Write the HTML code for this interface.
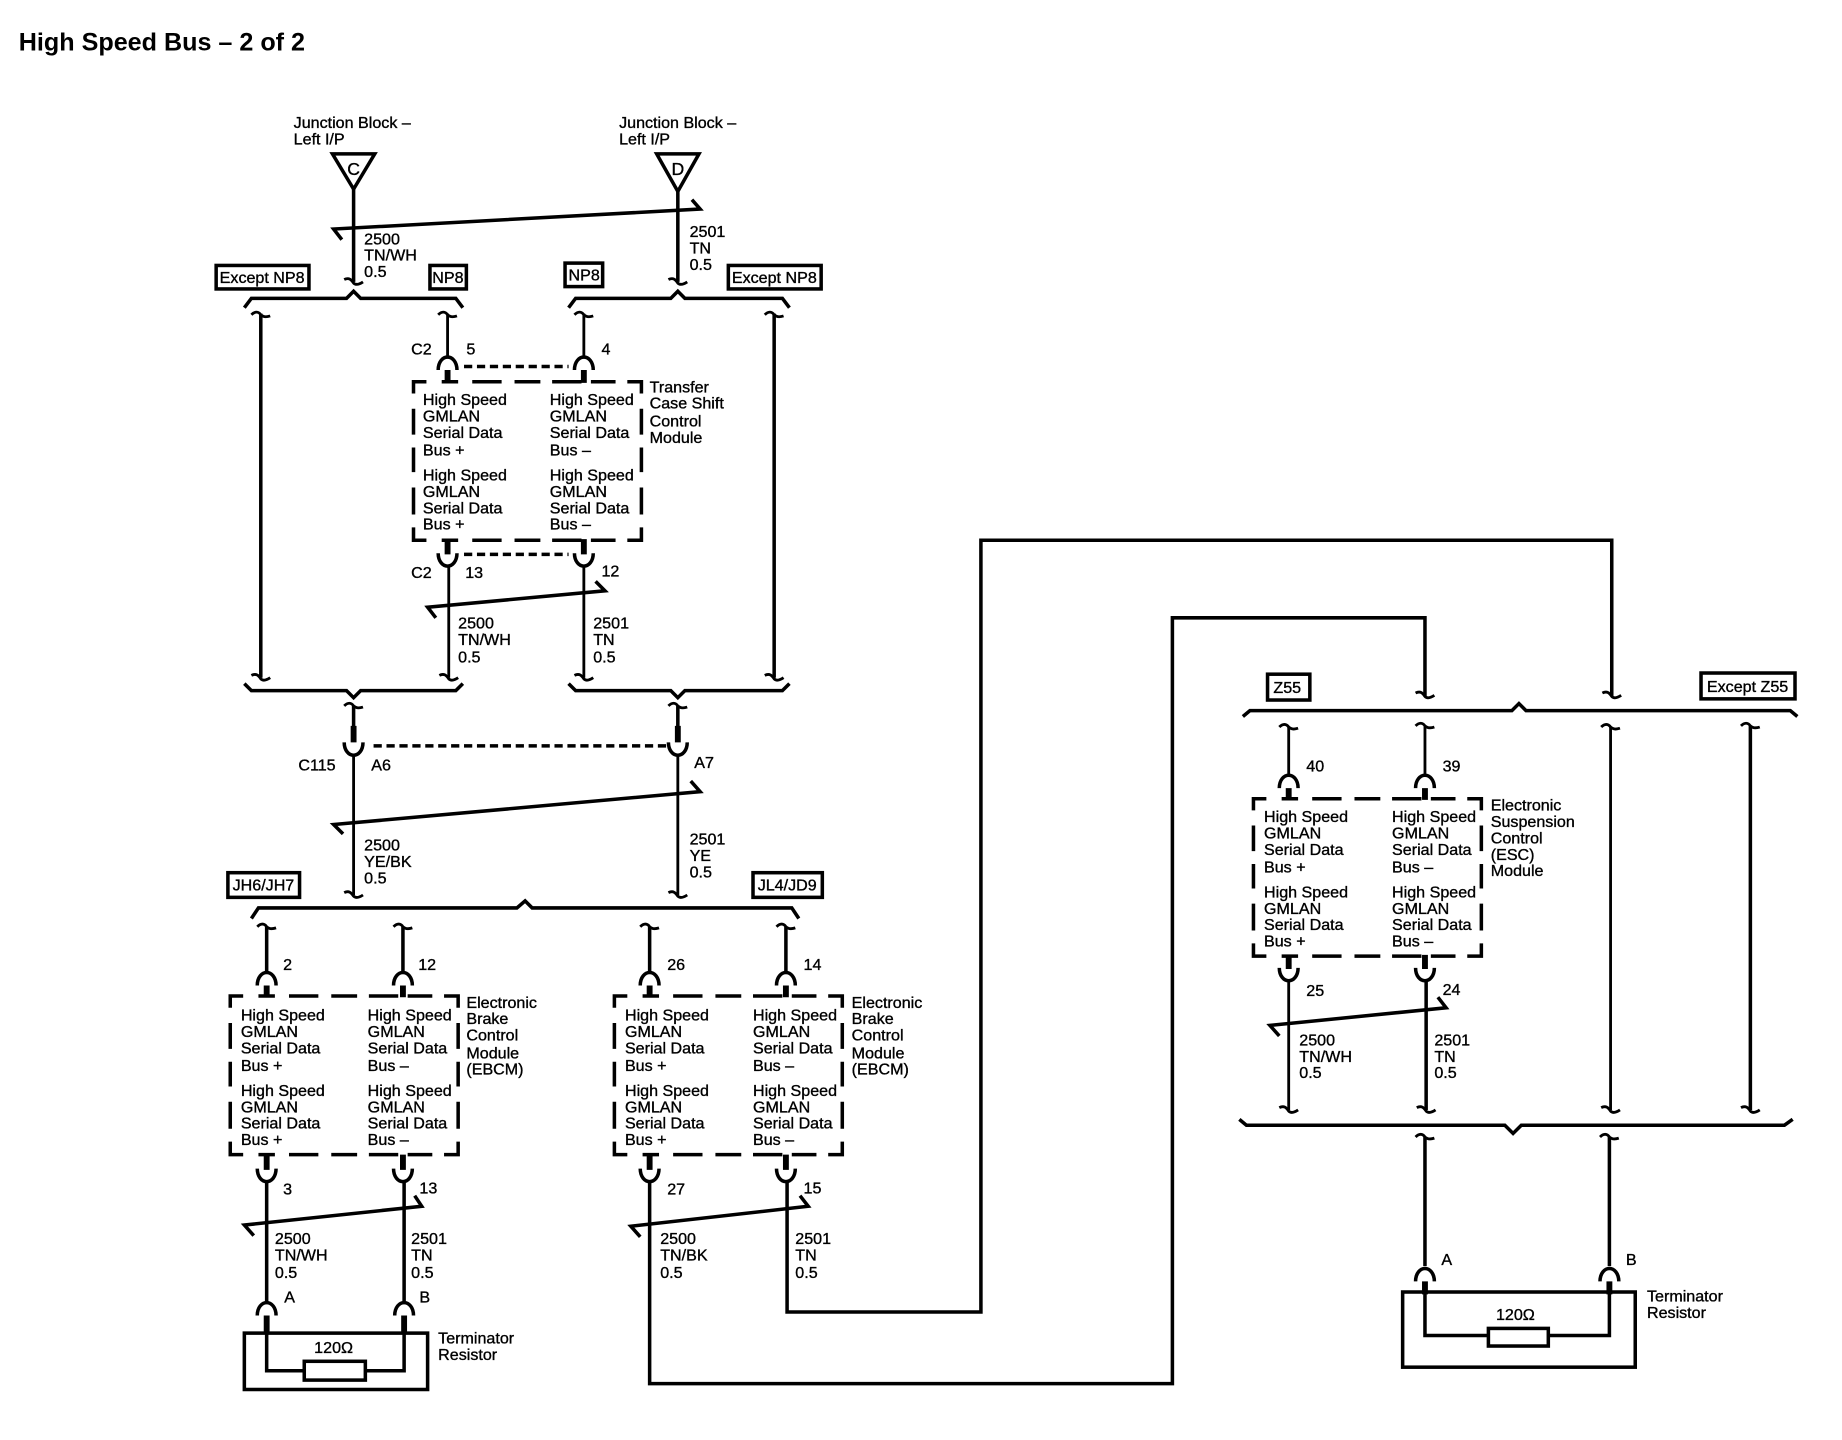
<!DOCTYPE html>
<html><head><meta charset="utf-8"><title>High Speed Bus - 2 of 2</title>
<style>
html,body{margin:0;padding:0;background:#fff;width:1842px;height:1440px;overflow:hidden}
svg{display:block}
text{font-family:"Liberation Sans",sans-serif;font-size:13.7px;fill:#000;stroke:#000;stroke-width:.3}
.t{font-size:21.4px;font-weight:bold;stroke:none}
.w{fill:none;stroke:#000;stroke-width:3}
.n{fill:none;stroke:#000;stroke-width:2.4}
.k{fill:none;stroke:#000;stroke-width:5}
.b{fill:#fff;stroke:#000;stroke-width:3}
.d{fill:none;stroke:#000;stroke-width:3;stroke-dasharray:7 4}
.c{text-anchor:middle;font-size:15px}
</style></head><body>
<svg xmlns="http://www.w3.org/2000/svg" width="1842" height="1440" viewBox="0 0 1568 1226" preserveAspectRatio="none">
<defs>
<path id="sd" class="n" d="M-8,-2 C-4,-4 -2,-2 0,1 C2,3 5,2 8,0"/>
<path id="su" class="n" d="M-8,0 C-5,-3 -2,-3 0,0 C2,2 5,2 8,1"/>
<path id="hu" class="w" d="M-8,6 C-8,-1 -4,-5 0,-5 C4,-5 8,-1 8,6"/>
<path id="cu" class="w" d="M-8,-6 C-8,1 -4,5 0,5 C4,5 8,1 8,-6"/>
<path id="box" class="w" d="M0,10V0H11M24,0H38M50,0H75M86,0H108M118,0H143M151,0H172M182,0H194V10M194,23V45M194,56V77M194,90V113M194,124V135H182M172,135H151M143,135H118M108,135H86M75,135H50M38,135H24M11,135H0V124M0,113V90M0,77V56M0,45V23"/>
</defs>

<text class="t" x="16" y="43">High Speed Bus – 2 of 2</text>

<!-- Junction blocks -->
<text><tspan x="250" y="109">Junction Block –</tspan><tspan x="250" y="123">Left I/P</tspan></text>
<text><tspan x="527" y="109">Junction Block –</tspan><tspan x="527" y="123">Left I/P</tspan></text>
<path class="w" d="M283,131H319L301,161Z"/><path class="w" d="M559,131H595L577,163Z"/>
<text class="c" x="301" y="149">C</text><text class="c" x="577" y="149">D</text>
<path class="w" d="M301,160V240M577,163V240"/>
<path class="w" d="M291,204L284,195L596,178L589,170"/>
<use href="#sd" x="301" y="240"/><use href="#sd" x="577" y="240"/>
<text><tspan x="310" y="208">2500</tspan><tspan x="310" y="222">TN/WH</tspan><tspan x="310" y="236">0.5</tspan></text>
<text><tspan x="587" y="202">2501</tspan><tspan x="587" y="216">TN</tspan><tspan x="587" y="230">0.5</tspan></text>
<rect class="b" x="184" y="226" width="79" height="20"/><text x="187" y="241">Except NP8</text>
<rect class="b" x="366" y="226" width="31" height="20"/><text x="368" y="241">NP8</text>
<rect class="b" x="481" y="224" width="32" height="20"/><text x="484" y="239">NP8</text>
<rect class="b" x="620" y="226" width="79" height="20"/><text x="623" y="241">Except NP8</text>
<path class="w" d="M208,262L214,254H295L301,248L307,254H388L394,262"/>
<path class="w" d="M484,262L490,254H571L577,248L583,254H666L672,262"/>

<!-- Section 1 wires -->
<path class="w" d="M222,267V577M659,267V577"/>
<path class="n" d="M381,267V303M497,267V303"/>
<use href="#su" x="222" y="268"/><use href="#su" x="381" y="268"/><use href="#su" x="497" y="268"/><use href="#su" x="659" y="268"/>
<use href="#hu" x="381" y="309"/><use href="#hu" x="497" y="309"/>
<path class="k" d="M381,315V326M497,315V326"/>
<path class="d" d="M395,312H484"/>
<text x="350" y="302">C2</text><text x="397" y="302">5</text><text x="512" y="302">4</text>

<!-- Transfer case module -->
<g transform="translate(352,325)">
<use href="#box"/>
<text><tspan x="8" y="20">High Speed</tspan><tspan x="8" y="34">GMLAN</tspan><tspan x="8" y="48">Serial Data</tspan><tspan x="8" y="63">Bus +</tspan><tspan x="8" y="84">High Speed</tspan><tspan x="8" y="98">GMLAN</tspan><tspan x="8" y="112">Serial Data</tspan><tspan x="8" y="126">Bus +</tspan></text>
<text><tspan x="116" y="20">High Speed</tspan><tspan x="116" y="34">GMLAN</tspan><tspan x="116" y="48">Serial Data</tspan><tspan x="116" y="63">Bus –</tspan><tspan x="116" y="84">High Speed</tspan><tspan x="116" y="98">GMLAN</tspan><tspan x="116" y="112">Serial Data</tspan><tspan x="116" y="126">Bus –</tspan></text>
</g>
<text><tspan x="553" y="334">Transfer</tspan><tspan x="553" y="348">Case Shift</tspan><tspan x="553" y="363">Control</tspan><tspan x="553" y="377">Module</tspan></text>

<path class="k" d="M381,459V472M497,459V472"/>
<use href="#cu" x="381" y="477"/><use href="#cu" x="497" y="477"/>
<path class="d" d="M395,472H484"/>
<path class="n" d="M382,482V577M497,482V577"/>
<text x="350" y="492">C2</text><text x="396" y="492">13</text><text x="512" y="491">12</text>
<path class="w" d="M371,526L364,517L515,503L507,495"/>
<text><tspan x="390" y="535">2500</tspan><tspan x="390" y="549">TN/WH</tspan><tspan x="390" y="564">0.5</tspan></text>
<text><tspan x="505" y="535">2501</tspan><tspan x="505" y="549">TN</tspan><tspan x="505" y="564">0.5</tspan></text>
<use href="#sd" x="222" y="577"/><use href="#sd" x="382" y="577"/><use href="#sd" x="497" y="577"/><use href="#sd" x="659" y="577"/>
<path class="w" d="M208,582L214,588H295L301,594L307,588H388L394,582"/>
<path class="w" d="M484,582L490,588H571L577,594L583,588H666L672,582"/>

<!-- C115 -->
<use href="#su" x="301" y="601"/><use href="#su" x="577" y="601"/>
<path class="w" d="M301,601V620M577,601V620"/>
<path class="k" d="M301,618V632M577,618V632"/>
<use href="#cu" x="301" y="638"/><use href="#cu" x="577" y="638"/>
<path class="d" d="M318,635H568"/>
<path class="n" d="M301,643V762M577,643V762"/>
<text x="254" y="656">C115</text><text x="316" y="656">A6</text><text x="591" y="654">A7</text>
<path class="w" d="M292,710L284,702L596,674L588,665"/>
<text><tspan x="310" y="724">2500</tspan><tspan x="310" y="738">YE/BK</tspan><tspan x="310" y="752">0.5</tspan></text>
<text><tspan x="587" y="719">2501</tspan><tspan x="587" y="733">YE</tspan><tspan x="587" y="747">0.5</tspan></text>
<use href="#sd" x="301" y="762"/><use href="#sd" x="577" y="762"/>
<rect class="b" x="194" y="743" width="61" height="21"/><text x="198" y="758">JH6/JH7</text>
<rect class="b" x="641" y="743" width="59" height="21"/><text x="645" y="758">JL4/JD9</text>
<path class="w" d="M214,782L220,773H440L447,767L453,773H674L680,782"/>

<!-- EBCM wires top -->
<use href="#su" x="227" y="789"/><use href="#su" x="343" y="789"/><use href="#su" x="553" y="789"/><use href="#su" x="669" y="789"/>
<path class="w" d="M227,789V828M343,789V828M553,789V828M669,789V828"/>
<use href="#hu" x="227" y="833"/><use href="#hu" x="343" y="833"/><use href="#hu" x="553" y="833"/><use href="#hu" x="669" y="833"/>
<path class="k" d="M227,839V849M343,839V849M553,839V849M669,839V849"/>
<text x="241" y="826">2</text><text x="356" y="826">12</text><text x="568" y="826">26</text><text x="684" y="826">14</text>

<g transform="translate(196,848)">
<use href="#box"/>
<text><tspan x="9" y="21">High Speed</tspan><tspan x="9" y="35">GMLAN</tspan><tspan x="9" y="49">Serial Data</tspan><tspan x="9" y="64">Bus +</tspan><tspan x="9" y="85">High Speed</tspan><tspan x="9" y="99">GMLAN</tspan><tspan x="9" y="113">Serial Data</tspan><tspan x="9" y="127">Bus +</tspan></text>
<text><tspan x="117" y="21">High Speed</tspan><tspan x="117" y="35">GMLAN</tspan><tspan x="117" y="49">Serial Data</tspan><tspan x="117" y="64">Bus –</tspan><tspan x="117" y="85">High Speed</tspan><tspan x="117" y="99">GMLAN</tspan><tspan x="117" y="113">Serial Data</tspan><tspan x="117" y="127">Bus –</tspan></text>
</g>
<g transform="translate(523,848)">
<use href="#box"/>
<text><tspan x="9" y="21">High Speed</tspan><tspan x="9" y="35">GMLAN</tspan><tspan x="9" y="49">Serial Data</tspan><tspan x="9" y="64">Bus +</tspan><tspan x="9" y="85">High Speed</tspan><tspan x="9" y="99">GMLAN</tspan><tspan x="9" y="113">Serial Data</tspan><tspan x="9" y="127">Bus +</tspan></text>
<text><tspan x="118" y="21">High Speed</tspan><tspan x="118" y="35">GMLAN</tspan><tspan x="118" y="49">Serial Data</tspan><tspan x="118" y="64">Bus –</tspan><tspan x="118" y="85">High Speed</tspan><tspan x="118" y="99">GMLAN</tspan><tspan x="118" y="113">Serial Data</tspan><tspan x="118" y="127">Bus –</tspan></text>
</g>
<text><tspan x="397" y="858">Electronic</tspan><tspan x="397" y="872">Brake</tspan><tspan x="397" y="886">Control</tspan><tspan x="397" y="901">Module</tspan><tspan x="397" y="915">(EBCM)</tspan></text>
<text><tspan x="725" y="858">Electronic</tspan><tspan x="725" y="872">Brake</tspan><tspan x="725" y="886">Control</tspan><tspan x="725" y="901">Module</tspan><tspan x="725" y="915">(EBCM)</tspan></text>

<path class="k" d="M227,983V996M343,983V996M553,983V996M669,983V996"/>
<use href="#cu" x="227" y="1001"/><use href="#cu" x="343" y="1001"/><use href="#cu" x="553" y="1001"/><use href="#cu" x="669" y="1001"/>
<text x="241" y="1017">3</text><text x="357" y="1016">13</text><text x="568" y="1017">27</text><text x="684" y="1016">15</text>
<path class="w" d="M227,1006V1108M344,1006V1108"/>
<path class="w" d="M216,1052L208,1043L359,1027L353,1018"/>
<path class="w" d="M545,1053L537,1044L688,1027L681,1018"/>
<text><tspan x="234" y="1059">2500</tspan><tspan x="234" y="1073">TN/WH</tspan><tspan x="234" y="1088">0.5</tspan></text>
<text><tspan x="350" y="1059">2501</tspan><tspan x="350" y="1073">TN</tspan><tspan x="350" y="1088">0.5</tspan></text>
<text><tspan x="562" y="1059">2500</tspan><tspan x="562" y="1073">TN/BK</tspan><tspan x="562" y="1088">0.5</tspan></text>
<text><tspan x="677" y="1059">2501</tspan><tspan x="677" y="1073">TN</tspan><tspan x="677" y="1088">0.5</tspan></text>

<!-- long runs -->
<path class="w" d="M553,1006V1178H998V526H1213V593"/>
<path class="w" d="M670,1006V1117H835V460H1372V593"/>

<!-- Left terminator -->
<use href="#hu" x="227" y="1114"/><use href="#hu" x="344" y="1114"/>
<path class="k" d="M227,1120V1136M344,1120V1136"/>
<text x="242" y="1109">A</text><text x="357" y="1109">B</text>
<rect class="w" x="208" y="1135" width="156" height="48"/>
<path class="w" d="M227,1135V1167H259M311,1167H344V1135"/>
<rect class="w" x="259" y="1159" width="52" height="16"/>
<text x="284" y="1152" text-anchor="middle">120Ω</text>
<text><tspan x="373" y="1144">Terminator</tspan><tspan x="373" y="1158">Resistor</tspan></text>

<!-- Right section -->
<use href="#sd" x="1213" y="592"/><use href="#sd" x="1372" y="592"/>
<rect class="b" x="1079" y="574" width="36" height="22"/><text x="1084" y="590">Z55</text>
<rect class="b" x="1448" y="573" width="80" height="22"/><text x="1453" y="589">Except Z55</text>
<path class="w" d="M1058,610L1064,605H1287L1293,599L1299,605H1524L1530,610"/>
<use href="#su" x="1097" y="619"/><use href="#su" x="1213" y="618"/><use href="#su" x="1371" y="619"/><use href="#su" x="1490" y="618"/>
<path class="n" d="M1097,619V660M1213,618V660M1371,619V945"/>
<path class="w" d="M1490,618V945"/>
<use href="#hu" x="1097" y="665"/><use href="#hu" x="1213" y="665"/>
<path class="k" d="M1097,671V681M1213,671V681"/>
<text x="1112" y="657">40</text><text x="1228" y="657">39</text>
<g transform="translate(1067,680)">
<use href="#box" transform="scale(1,.993)"/>
<text><tspan x="9" y="20">High Speed</tspan><tspan x="9" y="34">GMLAN</tspan><tspan x="9" y="48">Serial Data</tspan><tspan x="9" y="63">Bus +</tspan><tspan x="9" y="84">High Speed</tspan><tspan x="9" y="98">GMLAN</tspan><tspan x="9" y="112">Serial Data</tspan><tspan x="9" y="126">Bus +</tspan></text>
<text><tspan x="118" y="20">High Speed</tspan><tspan x="118" y="34">GMLAN</tspan><tspan x="118" y="48">Serial Data</tspan><tspan x="118" y="63">Bus –</tspan><tspan x="118" y="84">High Speed</tspan><tspan x="118" y="98">GMLAN</tspan><tspan x="118" y="112">Serial Data</tspan><tspan x="118" y="126">Bus –</tspan></text>
</g>
<text><tspan x="1269" y="690">Electronic</tspan><tspan x="1269" y="704">Suspension</tspan><tspan x="1269" y="718">Control</tspan><tspan x="1269" y="732">(ESC)</tspan><tspan x="1269" y="746">Module</tspan></text>
<path class="k" d="M1097,813V825M1213,813V825"/>
<use href="#cu" x="1097" y="830"/><use href="#cu" x="1213" y="830"/>
<text x="1112" y="848">25</text><text x="1228" y="847">24</text>
<path class="n" d="M1097,835V945"/><path class="w" d="M1214,835V945"/>
<path class="w" d="M1089,882L1081,873L1231,858L1224,849"/>
<text><tspan x="1106" y="890">2500</tspan><tspan x="1106" y="904">TN/WH</tspan><tspan x="1106" y="918">0.5</tspan></text>
<text><tspan x="1221" y="890">2501</tspan><tspan x="1221" y="904">TN</tspan><tspan x="1221" y="918">0.5</tspan></text>
<use href="#sd" x="1097" y="945"/><use href="#sd" x="1214" y="945"/><use href="#sd" x="1371" y="945"/><use href="#sd" x="1490" y="945"/>
<path class="w" d="M1055,953L1061,958H1281L1288,965L1295,958H1519L1526,953"/>

<use href="#su" x="1213" y="968"/><use href="#su" x="1370" y="968"/>
<path class="w" d="M1213,968V1078M1370,968V1078"/>
<use href="#hu" x="1213" y="1085"/><use href="#hu" x="1370" y="1085"/>
<path class="k" d="M1213,1091V1102M1370,1091V1102"/>
<text x="1227" y="1077">A</text><text x="1384" y="1077">B</text>
<rect class="w" x="1194" y="1100" width="198" height="64"/>
<path class="w" d="M1213,1100V1137H1267M1318,1137H1370V1100"/>
<rect class="w" x="1267" y="1131" width="51" height="15"/>
<text x="1290" y="1124" text-anchor="middle">120Ω</text>
<text><tspan x="1402" y="1108">Terminator</tspan><tspan x="1402" y="1122">Resistor</tspan></text>
</svg>
</body></html>
